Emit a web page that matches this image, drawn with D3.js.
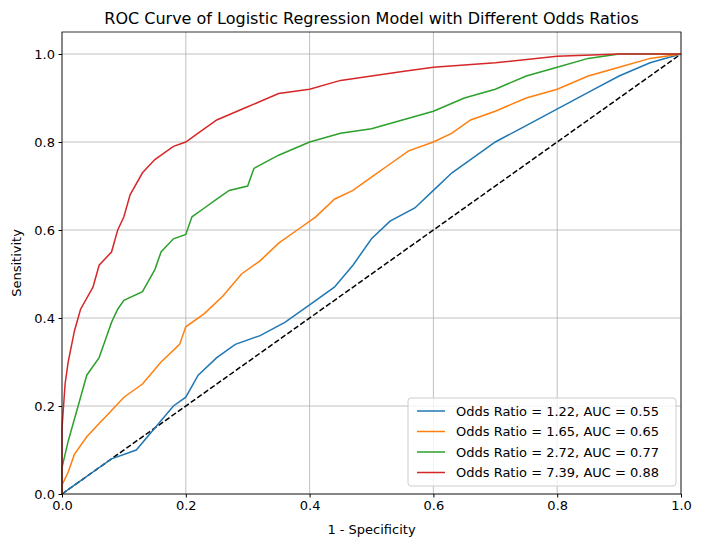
<!DOCTYPE html>
<html>
<head>
<script src="https://d3js.org/d3.v7.min.js"></script>
<style>body{margin:0;background:#fff;font-family:"DejaVu Sans",sans-serif;}</style>
</head>
<body>
<svg width="702" height="547"></svg>
<script>
const labels = ["Odds Ratio = 1.22, AUC = 0.55","Odds Ratio = 1.65, AUC = 0.65","Odds Ratio = 2.72, AUC = 0.77","Odds Ratio = 7.39, AUC = 0.88"];
const colors = ["#1f77b4","#ff7f0e","#2ca02c","#d62728"];
const blue = [[0,0],[0.02,0.02],[0.05,0.05],[0.08,0.08],[0.12,0.1],[0.15,0.15],[0.18,0.2],[0.2,0.22],[0.22,0.27],[0.25,0.31],[0.28,0.34],[0.32,0.36],[0.36,0.39],[0.4,0.43],[0.44,0.47],[0.47,0.52],[0.5,0.58],[0.53,0.62],[0.57,0.65],[0.6,0.69],[0.63,0.73],[0.66,0.76],[0.7,0.8],[0.74,0.83],[0.78,0.86],[0.82,0.89],[0.86,0.92],[0.9,0.95],[0.95,0.98],[1,1]];
const orange = [[0,0],[0,0.02],[0.01,0.05],[0.02,0.09],[0.04,0.13],[0.06,0.16],[0.08,0.19],[0.1,0.22],[0.13,0.25],[0.16,0.3],[0.19,0.34],[0.2,0.38],[0.23,0.41],[0.26,0.45],[0.29,0.5],[0.32,0.53],[0.35,0.57],[0.38,0.6],[0.41,0.63],[0.44,0.67],[0.47,0.69],[0.5,0.72],[0.53,0.75],[0.56,0.78],[0.6,0.8],[0.63,0.82],[0.66,0.85],[0.7,0.87],[0.75,0.9],[0.8,0.92],[0.85,0.95],[0.9,0.97],[0.95,0.99],[1,1]];
const green = [[0,0],[0,0.06],[0.01,0.12],[0.02,0.17],[0.03,0.22],[0.04,0.27],[0.06,0.31],[0.07,0.35],[0.08,0.39],[0.09,0.42],[0.1,0.44],[0.13,0.46],[0.15,0.51],[0.16,0.55],[0.18,0.58],[0.2,0.59],[0.21,0.63],[0.23,0.65],[0.25,0.67],[0.27,0.69],[0.3,0.7],[0.31,0.74],[0.35,0.77],[0.4,0.8],[0.45,0.82],[0.5,0.83],[0.55,0.85],[0.6,0.87],[0.65,0.9],[0.7,0.92],[0.75,0.95],[0.8,0.97],[0.85,0.99],[0.9,1.0],[1,1]];
const red = [[0,0],[0,0.15],[0.005,0.25],[0.01,0.3],[0.02,0.37],[0.03,0.42],[0.05,0.47],[0.06,0.52],[0.08,0.55],[0.09,0.6],[0.1,0.63],[0.11,0.68],[0.13,0.73],[0.15,0.76],[0.18,0.79],[0.2,0.8],[0.22,0.82],[0.25,0.85],[0.3,0.88],[0.35,0.91],[0.4,0.92],[0.45,0.94],[0.5,0.95],[0.55,0.96],[0.6,0.97],[0.7,0.98],[0.8,0.995],[0.9,1.0],[1,1]];
const series = [blue, orange, green, red];
const ticks = [0,0.2,0.4,0.6,0.8,1.0];

const svg = d3.select("svg");
const L = 62, R = 681, T = 32, B = 494;
const x = d3.scaleLinear().domain([0,1]).range([L,R]);
const y = d3.scaleLinear().domain([0,1.05]).range([B,T]);

// grid
const g = svg.append("g");
ticks.forEach(t => {
  g.append("line").attr("x1",x(t)).attr("x2",x(t)).attr("y1",T).attr("y2",B).attr("stroke","#b0b0b0").attr("stroke-width",0.8);
  g.append("line").attr("y1",y(t)).attr("y2",y(t)).attr("x1",L).attr("x2",R).attr("stroke","#b0b0b0").attr("stroke-width",0.8);
});

svg.append("line").attr("x1",x(0)).attr("y1",y(0)).attr("x2",x(1)).attr("y2",y(1))
  .attr("stroke","black").attr("stroke-width",1.5).attr("stroke-dasharray","5.5,2.4");

const line = d3.line().x(d => x(d[0])).y(d => y(d[1]));
series.forEach((s,i) => {
  svg.append("path").datum(s).attr("fill","none").attr("stroke",colors[i]).attr("stroke-width",1.5).attr("d",line);
});

svg.append("rect").attr("x",L).attr("y",T).attr("width",R-L).attr("height",B-T).attr("fill","none").attr("stroke","black").attr("stroke-width",0.8);

const fmt = d3.format(".1f");
svg.append("g").attr("transform",`translate(0,${B})`).call(d3.axisBottom(x).tickValues(ticks).tickFormat(fmt).tickSize(3.5).tickPadding(3.5))
  .call(a => { a.select(".domain").remove(); a.selectAll("text").attr("font-size",13).attr("font-family","DejaVu Sans").attr("fill","black"); });
svg.append("g").attr("transform",`translate(${L},0)`).call(d3.axisLeft(y).tickValues(ticks).tickFormat(fmt).tickSize(3.5).tickPadding(3.5))
  .call(a => { a.select(".domain").remove(); a.selectAll("text").attr("font-size",13).attr("font-family","DejaVu Sans").attr("fill","black"); });

svg.append("text").attr("x",(L+R)/2).attr("y",24).attr("text-anchor","middle").attr("font-size",16).text("ROC Curve of Logistic Regression Model with Different Odds Ratios");
svg.append("text").attr("x",(L+R)/2).attr("y",534).attr("text-anchor","middle").attr("font-size",13).text("1 - Specificity");
svg.append("text").attr("transform",`translate(21,${(T+B)/2}) rotate(-90)`).attr("text-anchor","middle").attr("font-size",13).text("Sensitivity");

const lg = svg.append("g").attr("transform","translate(408,398)");
lg.append("rect").attr("width",268).attr("height",88).attr("rx",3).attr("fill","white").attr("fill-opacity",0.8).attr("stroke","#cccccc");
labels.forEach((l,i) => {
  const yy = 13 + i*20.5;
  lg.append("line").attr("x1",9).attr("x2",37).attr("y1",yy).attr("y2",yy).attr("stroke",colors[i]).attr("stroke-width",1.5);
  lg.append("text").attr("x",48).attr("y",yy+4.5).attr("font-size",13).text(l);
});
</script>
</body>
</html>
